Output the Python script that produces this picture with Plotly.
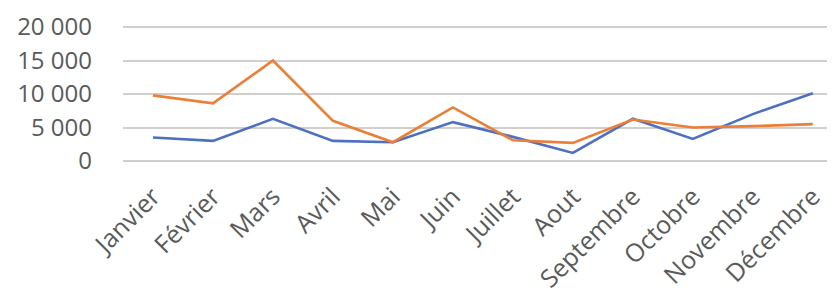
import plotly.graph_objects as go

mois = ["Janvier", "Février", "Mars", "Avril", "Mai", "Juin", "Juillet",
        "Aout", "Septembre", "Octobre", "Novembre", "Décembre"]
serie_bleue = [3500, 3000, 6300, 3000, 2800, 5800, 3600, 1200, 6300, 3300, 7000, 10100]
serie_orange = [9800, 8600, 15000, 6000, 2800, 8000, 3100, 2700, 6200, 5000, 5200, 5500]
y_ticks = [0, 5000, 10000, 15000, 20000]
y_tick_labels = ["0", "5 000", "10 000", "15 000", "20 000"]

fig = go.Figure()
fig.add_trace(go.Scatter(x=list(range(len(mois))), y=serie_bleue, mode="lines",
                         line=dict(color="#4E70C2", width=2.6), showlegend=False))
fig.add_trace(go.Scatter(x=list(range(len(mois))), y=serie_orange, mode="lines",
                         line=dict(color="#EC7E38", width=2.6), showlegend=False))

fig.update_layout(
    width=827, height=290,
    margin=dict(l=115, r=0, t=16, b=137),
    paper_bgcolor="white", plot_bgcolor="white",
    font=dict(family="Open Sans", color="#5A5A5A", size=22),
    xaxis=dict(range=[-0.5, 11.37], tickmode="array",
               tickvals=list(range(len(mois))), ticktext=mois,
               tickangle=-45, showgrid=False, zeroline=False, showline=False,
               ticks="", tickfont=dict(size=25), ticklabelstandoff=15,
               automargin=False),
    yaxis=dict(range=[0, 20450], tickmode="array", tickvals=y_ticks,
               ticktext=y_tick_labels, showgrid=True, gridcolor="#D2CECC",
               gridwidth=1.8, zeroline=True, zerolinecolor="#D2CECC",
               zerolinewidth=1.8, ticks="", ticklabelstandoff=30,
               tickfont=dict(size=24), automargin=False),
)

fig.write_html("out.html")
